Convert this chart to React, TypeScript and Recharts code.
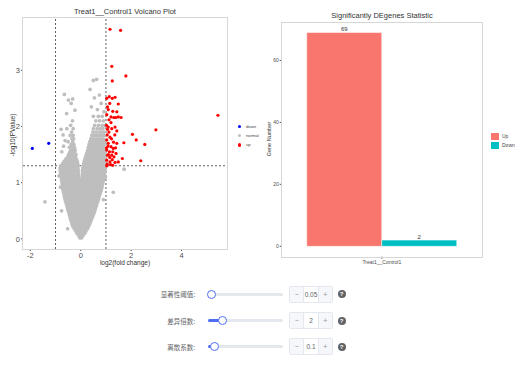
import React from 'react';
import {
  ScatterChart,
  Scatter,
  XAxis,
  YAxis,
  ReferenceLine,
  BarChart,
  Bar,
  LabelList,
} from 'recharts';

// ---------- Volcano plot data ----------
const volcanoXTicks = [-2, 0, 2, 4];
const volcanoYTicks = [0, 1, 2, 3];
const foldCutoffs = [-1, 1];
const pCutoff = 1.301;

const downPoints: [number, number][] = [
  [-1.92, 1.61],
  [-1.27, 1.7],
];

const upPoints: [number, number][] = [
  [1.16, 3.73], [1.58, 3.71], [1.23, 3.07], [1.79, 2.9], [1.25, 2.81],
  [1.03, 2.5], [1.13, 2.53], [1.25, 2.5], [1.36, 2.52], [1.15, 2.41],
  [1.49, 2.4], [1.09, 2.3], [1.27, 2.27], [1.43, 2.26], [1.03, 2.21],
  [1.2, 2.17], [1.31, 2.16], [1.39, 2.16], [1.49, 2.17], [1.6, 2.16],
  [1.2, 2.07], [1.36, 1.99], [1.09, 1.99], [1.06, 1.95], [1.23, 1.96],
  [1.43, 1.92], [2.98, 1.94], [2.05, 1.86], [5.44, 2.2], [2.2, 1.76],
  [2.54, 1.68], [1.71, 1.71], [1.16, 1.81], [1.03, 1.76], [1.09, 1.7],
  [1.2, 1.64], [1.29, 1.61], [1.38, 1.62], [1.43, 1.7], [1.03, 1.58],
  [1.14, 1.55], [1.27, 1.55], [1.06, 1.49], [1.23, 1.49], [1.4, 1.52],
  [1.03, 1.4], [1.16, 1.37], [1.36, 1.36], [1.49, 1.37], [1.65, 1.43],
  [2.38, 1.39], [1.27, 1.31], [1.03, 1.3], [1.05, 1.85], [1.12, 1.9],
  [1.02, 2.02], [1.08, 1.65], [1.15, 1.45], [1.25, 1.41], [1.32, 1.46],
  [1.05, 1.33], [1.18, 1.32], [1.1, 1.5], [1.22, 1.78], [1.3, 1.72],
  [1.02, 1.62], [1.35, 1.85], [1.12, 2.12], [1.06, 2.35],
];

const normalRows: [number, number[]][] = [
  [0.02, [-0.04, 0.0, 0.04]],
  [0.06, [-0.09, -0.03, 0.03, 0.09]],
  [0.1, [-0.15, -0.08, -0.02, 0.04, 0.1, 0.16]],
  [0.14, [-0.2, -0.13, -0.06, 0.01, 0.07, 0.14, 0.21]],
  [0.18, [-0.26, -0.18, -0.11, -0.04, 0.04, 0.12, 0.19, 0.27]],
  [0.22, [-0.31, -0.23, -0.15, -0.06, 0.05, 0.14, 0.22, 0.31]],
  [0.26, [-0.34, -0.26, -0.17, -0.08, -0.04, 0.05, 0.16, 0.25, 0.35]],
  [0.3, [-0.37, -0.29, -0.2, -0.11, -0.04, 0.05, 0.13, 0.21, 0.3, 0.39]],
  [0.34, [-0.4, -0.31, -0.22, -0.13, -0.05, 0.05, 0.15, 0.24, 0.33, 0.42]],
  [0.38, [-0.42, -0.33, -0.24, -0.15, -0.05, 0.05, 0.16, 0.26, 0.36, 0.46]],
  [0.42, [-0.44, -0.35, -0.26, -0.17, -0.08, -0.04, 0.05, 0.14, 0.23, 0.32, 0.41, 0.49]],
  [0.46, [-0.47, -0.38, -0.29, -0.2, -0.1, -0.04, 0.05, 0.13, 0.22, 0.31, 0.4, 0.48, 0.53]],
  [0.5, [-0.5, -0.41, -0.32, -0.22, -0.12, -0.05, 0.05, 0.14, 0.23, 0.32, 0.41, 0.49, 0.56]],
  [0.54, [-0.52, -0.43, -0.34, -0.24, -0.14, -0.05, 0.05, 0.14, 0.24, 0.33, 0.42, 0.51, 0.58]],
  [0.58, [-0.54, -0.45, -0.36, -0.26, -0.16, -0.05, 0.05, 0.15, 0.25, 0.35, 0.44, 0.53, 0.61]],
  [0.62, [-0.57, -0.48, -0.38, -0.28, -0.18, -0.08, -0.04, 0.05, 0.14, 0.24, 0.34, 0.44, 0.54, 0.64]],
  [0.66, [-0.6, -0.5, -0.4, -0.3, -0.2, -0.1, -0.04, 0.05, 0.15, 0.25, 0.35, 0.45, 0.55, 0.62, 0.67]],
  [0.7, [-0.62, -0.52, -0.42, -0.32, -0.22, -0.12, -0.05, 0.05, 0.14, 0.24, 0.34, 0.44, 0.54, 0.63, 0.7]],
  [0.74, [-0.64, -0.54, -0.44, -0.34, -0.24, -0.14, -0.05, 0.05, 0.15, 0.25, 0.35, 0.45, 0.55, 0.64, 0.72]],
  [0.78, [-0.66, -0.56, -0.46, -0.36, -0.26, -0.16, -0.05, 0.05, 0.15, 0.25, 0.35, 0.45, 0.55, 0.65, 0.75]],
  [0.82, [-0.68, -0.58, -0.48, -0.38, -0.28, -0.18, -0.08, -0.04, 0.05, 0.15, 0.25, 0.35, 0.45, 0.55, 0.65, 0.72, 0.78]],
  [0.86, [-0.7, -0.6, -0.5, -0.4, -0.3, -0.2, -0.1, -0.04, 0.05, 0.15, 0.25, 0.35, 0.45, 0.55, 0.65, 0.74, 0.81]],
  [0.9, [-0.72, -0.62, -0.52, -0.42, -0.32, -0.22, -0.12, -0.05, 0.05, 0.14, 0.24, 0.34, 0.44, 0.54, 0.64, 0.74, 0.83]],
  [0.94, [-0.73, -0.63, -0.53, -0.43, -0.33, -0.23, -0.13, -0.05, 0.05, 0.15, 0.25, 0.35, 0.45, 0.55, 0.65, 0.75, 0.85]],
  [0.98, [-0.74, -0.64, -0.54, -0.44, -0.34, -0.24, -0.14, -0.05, 0.05, 0.15, 0.25, 0.35, 0.45, 0.55, 0.65, 0.76, 0.87]],
  [1.02, [-0.75, -0.65, -0.55, -0.45, -0.35, -0.25, -0.15, -0.05, 0.05, 0.15, 0.25, 0.35, 0.45, 0.55, 0.65, 0.75, 0.83, 0.89]],
  [1.06, [-0.76, -0.66, -0.56, -0.46, -0.36, -0.26, -0.16, -0.05, 0.05, 0.14, 0.24, 0.34, 0.44, 0.54, 0.64, 0.74, 0.82, 0.9]],
  [1.1, [-0.78, -0.68, -0.58, -0.48, -0.38, -0.28, -0.18, -0.08, 0.06, 0.16, 0.26, 0.36, 0.46, 0.56, 0.66, 0.76, 0.84, 0.92]],
  [1.14, [-0.79, -0.69, -0.59, -0.49, -0.39, -0.29, -0.19, -0.09, 0.06, 0.15, 0.25, 0.35, 0.45, 0.55, 0.65, 0.75, 0.84, 0.93]],
  [1.18, [-0.8, -0.7, -0.6, -0.5, -0.4, -0.3, -0.2, -0.1, 0.07, 0.17, 0.27, 0.37, 0.47, 0.57, 0.67, 0.77, 0.86, 0.95]],
  [1.22, [-0.81, -0.71, -0.61, -0.51, -0.41, -0.31, -0.21, -0.1, 0.07, 0.17, 0.27, 0.37, 0.47, 0.57, 0.67, 0.77, 0.86, 0.96]],
  [1.26, [-0.82, -0.72, -0.62, -0.52, -0.42, -0.32, -0.22, -0.11, 0.08, 0.18, 0.28, 0.38, 0.48, 0.58, 0.68, 0.78, 0.88, 0.98]],
  [1.3, [-0.8, -0.7, -0.6, -0.5, -0.4, -0.3, -0.2, -0.11, 0.09, 0.19, 0.29, 0.39, 0.49, 0.59, 0.69, 0.79, 0.89, 0.99]],
  [1.34, [-0.72, -0.62, -0.52, -0.42, -0.32, -0.22, -0.12, 0.12, 0.21, 0.3, 0.39, 0.48, 0.57, 0.66, 0.75, 0.84, 0.93, 1.0]],
  [1.38, [-0.66, -0.55, -0.45, -0.35, -0.25, -0.14, 0.14, 0.23, 0.32, 0.41, 0.5, 0.59, 0.68, 0.77, 0.86, 0.95]],
  [1.42, [-0.6, -0.48, -0.38, -0.28, -0.17, 0.16, 0.25, 0.34, 0.43, 0.52, 0.61, 0.7, 0.79, 0.88, 0.97]],
  [1.46, [-0.52, -0.42, -0.32, -0.21, 0.19, 0.28, 0.37, 0.46, 0.55, 0.64, 0.73, 0.82, 0.91, 0.99]],
  [1.5, [-0.48, -0.38, -0.28, -0.19, 0.22, 0.31, 0.4, 0.49, 0.58, 0.67, 0.76, 0.85, 0.94]],
  [1.54, [-0.44, -0.34, -0.24, 0.25, 0.34, 0.43, 0.52, 0.61, 0.7, 0.79, 0.88, 0.96]],
  [1.58, [-0.4, -0.3, -0.22, 0.28, 0.37, 0.46, 0.55, 0.64, 0.73, 0.82, 0.91, 0.98]],
  [1.63, [-0.45, -0.33, -0.25, 0.3, 0.4, 0.5, 0.6, 0.7, 0.8, 0.9]],
  [1.68, [-0.38, -0.27, 0.33, 0.43, 0.53, 0.63, 0.73, 0.83, 0.93]],
  [1.73, [-0.5, -0.32, 0.36, 0.46, 0.56, 0.66, 0.76, 0.86, 0.96]],
  [1.78, [-0.35, -0.28, 0.4, 0.5, 0.6, 0.7, 0.8, 0.9]],
  [1.84, [-0.42, -0.3, 0.44, 0.54, 0.64, 0.74, 0.84, 0.94]],
  [1.9, [-0.36, 0.48, 0.6, 0.72, 0.82, 0.92]],
  [1.96, [-0.55, -0.3, 0.5, 0.65, 0.78, 0.88]],
  [2.02, [-0.4, 0.55, 0.7, 0.85, 0.96]],
  [2.1, [-0.33, 0.6, 0.75, 0.9]],
  [2.18, [0.5, 0.7, 0.85]],
];

const normalExtra: [number, number][] = [
  [0.63, 2.84], [0.5, 2.82], [0.37, 2.66], [0.54, 2.51], [0.74, 2.56],
  [0.81, 2.41], [-0.65, 2.57], [-0.49, 2.47], [-0.32, 2.49], [-0.38, 2.41],
  [-0.23, 2.29], [-0.56, 2.23], [-0.78, 1.95], [-0.7, 1.85], [-0.62, 1.75],
  [-0.75, 1.55], [-0.68, 1.65], [0.66, 2.3], [0.92, 2.26], [0.42, 2.35],
  [-1.42, 0.66], [-0.76, 0.5], [-0.52, 0.18], [1.72, 1.24], [1.29, 0.83],
  [-0.86, 1.12], [0.98, 1.1], [-0.8, 0.92], [0.9, 0.7],
];

// ---------- Bar chart data ----------
const barCategories = ['Treat1__Control1'];
const upCounts = [69];
const downCounts = [2];
const barYTicks = [0, 20, 40, 60];

const toXY = (pts: [number, number][]) => pts.map(([x, y]) => ({ x, y }));
const normalData = [
  ...normalRows.flatMap(([y, xs]) => xs.map((x) => ({ x, y }))),
  ...toXY(normalExtra),
];
const upData = toXY(upPoints);
const downData = toXY(downPoints);
const barData = barCategories.map((name, i) => ({ name, Up: upCounts[i], Down: downCounts[i] }));

const FONT = 'Arial, "Liberation Sans", Helvetica, sans-serif';
const CJK = '"Noto Sans CJK SC", "Noto Sans", sans-serif';

const dot = (r: number, fill: string) => (props: any) => (
  <circle cx={props.cx} cy={props.cy} r={r} fill={fill} stroke="none" />
);

const Slider = ({ y, label, thumb, value }: { y: number; label: string; thumb: number; value: string }) => {
  const trackLeft = 207.5;
  const trackRight = 282.7;
  return (
    <>
      <div
        style={{
          position: 'absolute', left: 120, width: 75, top: y - 6, height: 12, lineHeight: '12px',
          textAlign: 'right', fontSize: 6.5, color: '#606266', fontFamily: CJK,
        }}
      >
        {label}
      </div>
      <div style={{ position: 'absolute', left: trackLeft, top: y - 1.5, width: trackRight - trackLeft, height: 3, background: '#e4e7ed', borderRadius: 2 }} />
      <div style={{ position: 'absolute', left: trackLeft, top: y - 1.5, width: thumb - trackLeft, height: 3, background: '#4e6ef2', borderRadius: 2 }} />
      <div
        style={{
          position: 'absolute', left: thumb - 4.5, top: y - 4.5, width: 9, height: 9, boxSizing: 'border-box',
          borderRadius: '50%', border: '1.5px solid #4e6ef2', background: '#fff',
        }}
      />
      <div
        style={{
          position: 'absolute', left: 289.3, top: y - 8.5, width: 43.4, height: 17, boxSizing: 'border-box',
          border: '1px solid #e4e7ed', borderRadius: 2, background: '#fff', display: 'flex', fontFamily: FONT,
        }}
      >
        <div style={{ width: 13, background: '#f5f7fa', borderRight: '1px solid #e4e7ed', color: '#909399', fontSize: 7, textAlign: 'center', lineHeight: '15px' }}>−</div>
        <div style={{ flex: 1, overflow: 'hidden', whiteSpace: 'nowrap', color: '#606266', fontSize: 6.5, textAlign: 'center', lineHeight: '15px' }}>{value}</div>
        <div style={{ width: 13, background: '#f5f7fa', borderLeft: '1px solid #e4e7ed', color: '#909399', fontSize: 7, textAlign: 'center', lineHeight: '15px' }}>+</div>
      </div>
      <div
        style={{
          position: 'absolute', left: 341.7 - 4, top: y - 4, width: 8, height: 8, borderRadius: '50%',
          background: '#606266', color: '#fff', fontSize: 6, fontWeight: 'bold', textAlign: 'center', lineHeight: '8px', fontFamily: FONT,
        }}
      >
        ?
      </div>
    </>
  );
};

const abs = (s: React.CSSProperties): React.CSSProperties => ({ position: 'absolute', ...s });

export default function App() {
  return (
    <div style={{ position: 'absolute', left: 0, top: 0, width: 525, height: 366, background: '#fff', overflow: 'hidden', fontFamily: FONT }}>
      {/* Volcano plot */}
      <div style={abs({ left: 0, top: 0 })}>
        <ScatterChart width={230} height={270} margin={{ top: 18, right: 3, bottom: 7, left: 8 }}>
          <XAxis
            type="number" dataKey="x" domain={[-2.29, 5.8]} ticks={volcanoXTicks} allowDataOverflow
            axisLine={false} tickSize={2} tickLine={{ stroke: '#4d4d4d' }} height={14}
            tick={{ fontSize: 7.5, fill: '#4d4d4d', fontFamily: FONT }}
          />
          <YAxis
            type="number" dataKey="y" domain={[-0.18, 3.93]} ticks={volcanoYTicks} allowDataOverflow
            axisLine={false} tickSize={2} tickMargin={1} tickLine={{ stroke: '#4d4d4d' }} width={15}
            tick={{ fontSize: 7.5, fill: '#4d4d4d', fontFamily: FONT }}
          />
          <Scatter data={normalData} isAnimationActive={false} shape={dot(1.85, '#bebebe')} />
          <Scatter data={downData} isAnimationActive={false} shape={dot(1.6, '#0000ff')} />
          <Scatter data={upData} isAnimationActive={false} shape={dot(1.6, '#ff0000')} />
          {foldCutoffs.map((v) => (
            <ReferenceLine key={v} x={v} stroke="#333" strokeWidth={0.8} strokeDasharray="2 2" />
          ))}
          <ReferenceLine y={pCutoff} stroke="#333" strokeWidth={0.8} strokeDasharray="2 2" />
        </ScatterChart>
      </div>
      <div style={abs({ left: 22.2, top: 17.2, width: 205.6, height: 232.6, boxSizing: 'border-box', border: '1.6px solid #d6d6d6', pointerEvents: 'none' })} />
      <div style={abs({ left: 25, width: 200, top: 6, textAlign: 'center', fontSize: 7.5, color: '#333', lineHeight: '12px' })}>
        Treat1__Control1 Volcano Plot
      </div>
      <div style={abs({ left: 25, width: 200, top: 258, textAlign: 'center', fontSize: 6.5, color: '#333', lineHeight: '10px' })}>
        log2(fold change)
      </div>
      <div
        style={abs({
          left: 12.5 - 40, top: 135 - 5, width: 80, height: 10, lineHeight: '10px', textAlign: 'center',
          fontSize: 6.5, color: '#333', transform: 'rotate(-90deg)',
        })}
      >
        -log10(PValue)
      </div>
      {/* Volcano legend */}
      {[
        { name: 'down', color: '#0000ff', y: 126.7 },
        { name: 'normal', color: '#bebebe', y: 135.7 },
        { name: 'up', color: '#ff0000', y: 145 },
      ].map((l) => (
        <React.Fragment key={l.name}>
          <div style={abs({ left: 239.3 - 1.6, top: l.y - 1.6, width: 3.2, height: 3.2, borderRadius: '50%', background: l.color })} />
          <div style={abs({ left: 246, top: l.y - 4, height: 8, lineHeight: '8px', fontSize: 4.2, color: '#444' })}>{l.name}</div>
        </React.Fragment>
      ))}

      {/* Bar chart */}
      <div style={abs({ left: 260, top: 0 })}>
        <BarChart width={230} height={270} data={barData} margin={{ top: 22.3, right: 8, bottom: 1.3, left: 7.7 }} barCategoryGap="12.5%" barGap={0}>
          <XAxis
            dataKey="name" axisLine={false} tickSize={2} tickLine={{ stroke: '#4d4d4d' }} height={12}
            tick={{ fontSize: 5, fill: '#4d4d4d', fontFamily: FONT }}
          />
          <YAxis
            type="number" domain={[-3.35, 72.3]} ticks={barYTicks} allowDataOverflow axisLine={false}
            tickSize={2} tickMargin={1} tickLine={{ stroke: '#4d4d4d' }} width={14}
            tick={{ fontSize: 5, fill: '#4d4d4d', fontFamily: FONT }}
          />
          <Bar dataKey="Up" fill="#F8766D" stroke="#ffffff" strokeWidth={0.5} isAnimationActive={false}>
            <LabelList dataKey="Up" position="top" offset={1.5} style={{ fontSize: 6, fill: '#333', fontFamily: FONT }} />
          </Bar>
          <Bar dataKey="Down" fill="#00BFC4" stroke="#ffffff" strokeWidth={0.5} isAnimationActive={false}>
            <LabelList dataKey="Down" position="top" offset={1.5} style={{ fontSize: 6, fill: '#333', fontFamily: FONT }} />
          </Bar>
        </BarChart>
      </div>
      <div style={abs({ left: 280.9, top: 21.5, width: 201.9, height: 236, boxSizing: 'border-box', border: '1.6px solid #d6d6d6', pointerEvents: 'none' })} />
      <div style={abs({ left: 282, width: 200, top: 9.5, textAlign: 'center', fontSize: 7.5, color: '#333', lineHeight: '12px' })}>
        Significantly DEgenes Statistic
      </div>
      <div
        style={abs({
          left: 269 - 40, top: 139 - 5, width: 80, height: 10, lineHeight: '10px', textAlign: 'center',
          fontSize: 5.5, color: '#333', transform: 'rotate(-90deg)',
        })}
      >
        Gene Number
      </div>
      {[
        { name: 'Up', color: '#F8766D', y: 132.7 },
        { name: 'Down', color: '#00BFC4', y: 142 },
      ].map((l) => (
        <React.Fragment key={l.name}>
          <div style={abs({ left: 491, top: l.y, width: 8, height: 7.3, background: l.color })} />
          <div style={abs({ left: 502, top: l.y, height: 7.3, lineHeight: '7.3px', fontSize: 5, color: '#444' })}>{l.name}</div>
        </React.Fragment>
      ))}

      {/* Controls */}
      <Slider y={294} label="显著性阈值:" thumb={211.7} value="0.05" />
      <Slider y={320.7} label="差异倍数:" thumb={222.7} value="2" />
      <Slider y={346.7} label="离散系数:" thumb={214.5} value="0.1" />
    </div>
  );
}
